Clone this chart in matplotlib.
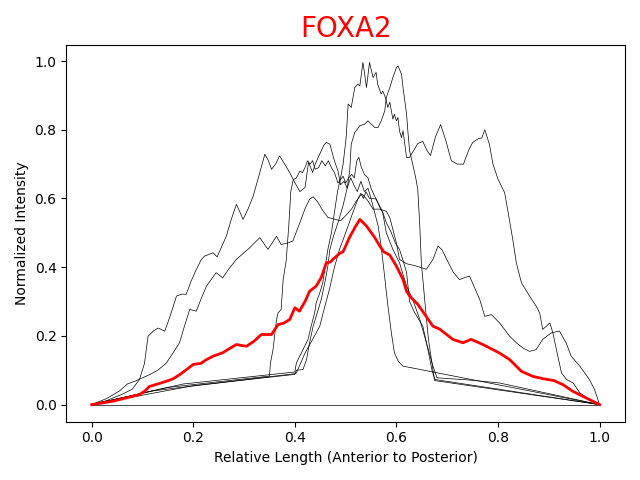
import matplotlib
matplotlib.use("Agg")
import matplotlib.pyplot as plt

# individual embryo profiles (relative position, normalized intensity)
a_x = [0, 0.03, 0.06, 0.08, 0.094, 0.104, 0.111, 0.122, 0.131, 0.144, 0.155, 0.167, 0.178, 0.186,
       0.196, 0.205, 0.215, 0.222, 0.239, 0.247, 0.256, 0.265, 0.275, 0.285, 0.292, 0.298, 0.308,
       0.318, 0.33, 0.341, 0.348, 0.354, 0.362, 0.37, 0.38, 0.39, 0.40, 0.41, 0.42, 0.427, 0.435,
       0.44, 0.449, 0.457, 0.462, 0.469, 0.478, 0.485, 0.49, 0.497, 0.503, 0.51, 0.516, 0.523, 0.53,
       0.537, 0.544, 0.55, 0.557, 0.564, 0.57, 0.577, 0.583, 0.59, 0.596, 0.604, 0.613, 1.0]
a_y = [0, 0.012, 0.03, 0.045, 0.073, 0.12, 0.199, 0.215, 0.223, 0.214, 0.26, 0.316, 0.322, 0.321,
       0.36, 0.39, 0.42, 0.432, 0.442, 0.43, 0.46, 0.49, 0.54, 0.583, 0.56, 0.539, 0.57,
       0.607, 0.67, 0.729, 0.71, 0.685, 0.70, 0.724, 0.70, 0.675, 0.646, 0.62, 0.632, 0.705, 0.676,
       0.70, 0.729, 0.755, 0.763, 0.758, 0.709, 0.68, 0.64, 0.65, 0.63, 0.66, 0.64, 0.62, 0.65,
       0.62, 0.63, 0.60, 0.56, 0.52, 0.46, 0.37, 0.29, 0.209, 0.151, 0.125, 0.112, 0.0]

b_x = [0, 0.03, 0.055, 0.07, 0.085, 0.1, 0.114, 0.13, 0.147, 0.16, 0.173, 0.183, 0.193, 0.206, 0.216,
       0.226, 0.245, 0.258, 0.27, 0.285, 0.31, 0.331, 0.347, 0.364, 0.373, 0.385, 0.396, 0.41, 0.42,
       0.429, 0.436, 0.445, 0.455, 0.465, 0.48, 0.49, 0.50, 0.512, 0.52, 0.528, 0.533, 0.544, 0.554,
       0.567, 0.58, 0.587, 0.593, 0.60, 0.606, 0.62, 0.635, 0.646, 0.659, 0.672, 0.682, 0.69, 0.70,
       0.712, 0.724, 0.735, 0.744, 0.754, 0.764, 0.774, 0.787, 0.803, 0.823, 0.836, 0.849, 0.862,
       0.875, 0.888, 0.905, 0.921, 0.934, 0.944, 0.961, 0.98, 0.99, 1.0]
b_y = [0, 0.018, 0.04, 0.06, 0.068, 0.078, 0.087, 0.10, 0.121, 0.15, 0.18, 0.23, 0.277, 0.272, 0.31,
       0.345, 0.384, 0.369, 0.395, 0.423, 0.455, 0.486, 0.452, 0.49, 0.466, 0.47, 0.476, 0.53, 0.57,
       0.598, 0.605, 0.59, 0.565, 0.545, 0.539, 0.535, 0.55, 0.57, 0.59, 0.607, 0.612, 0.593, 0.569,
       0.569, 0.563, 0.544, 0.51, 0.47, 0.423, 0.41, 0.405, 0.40, 0.394, 0.423, 0.462, 0.45, 0.42,
       0.385, 0.364, 0.37, 0.374, 0.34, 0.306, 0.257, 0.262, 0.238, 0.199, 0.18, 0.165, 0.155,
       0.16, 0.19, 0.209, 0.214, 0.18, 0.141, 0.112, 0.073, 0.044, 0.0]

c_x = [0, 0.18, 0.40, 0.403, 0.416, 0.426, 0.432, 0.439, 0.442, 0.449, 0.455, 0.459, 0.465, 0.472,
       0.478, 0.484, 0.49, 0.495, 0.501, 0.505, 0.511, 0.518, 0.524, 0.528, 0.534, 0.537, 0.541,
       0.547, 0.554, 0.56, 0.563, 0.57, 0.573, 0.577, 0.58, 0.583, 0.587, 0.593, 0.596, 0.60, 0.603,
       0.606, 0.61, 0.613, 0.62, 0.626, 0.632, 0.642, 0.652, 0.66, 0.667, 0.677, 0.687, 0.697, 0.708,
       0.72, 0.732, 0.742, 0.75, 0.762, 0.768, 0.774, 0.783, 0.79, 0.80, 0.813, 0.82, 0.829, 0.836,
       0.846, 0.862, 0.875, 0.882, 0.888, 0.895, 0.902, 0.908, 0.915, 0.925, 0.935, 0.948, 0.961,
       0.98, 1.0]
c_y = [0, 0.06, 0.095, 0.121, 0.16, 0.19, 0.228, 0.267, 0.296, 0.325, 0.355, 0.394, 0.452, 0.50,
       0.56, 0.62, 0.66, 0.70, 0.777, 0.875, 0.865, 0.923, 0.933, 0.928, 0.996, 0.967, 0.923,
       0.996, 0.952, 0.967, 0.933, 0.904, 0.913, 0.899, 0.885, 0.865, 0.88, 0.831, 0.845, 0.826, 0.836,
       0.797, 0.777, 0.797, 0.719, 0.72, 0.735, 0.76, 0.766, 0.74, 0.725, 0.78, 0.815, 0.77, 0.71,
       0.70, 0.70, 0.74, 0.763, 0.775, 0.776, 0.80, 0.758, 0.70, 0.656, 0.617, 0.559, 0.481, 0.413,
       0.355, 0.316, 0.287, 0.267, 0.219, 0.228, 0.238, 0.209, 0.16, 0.092, 0.073, 0.063, 0.034,
       0.015, 0.0]

d_x = [0, 0.2, 0.40, 0.403, 0.416, 0.423, 0.429, 0.436, 0.442, 0.452, 0.459, 0.465, 0.469, 0.476,
       0.485, 0.495, 0.503, 0.508, 0.511, 0.518, 0.528, 0.537, 0.544, 0.547, 0.557, 0.564, 0.57,
       0.577, 0.58, 0.587, 0.593, 0.60, 0.603, 0.61, 0.613, 0.62, 0.623, 0.626, 0.632, 0.638, 0.642,
       0.646, 0.649, 0.656, 0.663, 0.669, 0.675, 1.0]
d_y = [0, 0.055, 0.088, 0.10, 0.102, 0.131, 0.18, 0.228, 0.257, 0.306, 0.355, 0.403, 0.452, 0.49,
       0.53, 0.58, 0.63, 0.68, 0.758, 0.792, 0.812, 0.816, 0.826, 0.821, 0.807, 0.807, 0.826,
       0.855, 0.894, 0.923, 0.952, 0.981, 0.986, 0.962, 0.923, 0.845, 0.787, 0.738, 0.70, 0.66, 0.627,
       0.52, 0.413, 0.30, 0.19, 0.13, 0.07, 0.0]

g_x = [0, 0.15, 0.35, 0.352, 0.357, 0.364, 0.367, 0.373, 0.377, 0.383, 0.388, 0.392, 0.397, 0.403,
       0.41, 0.415, 0.42, 0.425, 0.43, 0.435, 0.44, 0.447, 0.453, 0.46, 0.466, 0.472, 0.478, 0.485,
       0.49, 0.495, 0.50, 0.506, 0.512, 0.517, 0.522, 0.526, 0.531, 0.537, 0.544, 0.55, 0.556, 0.563,
       0.573, 0.58, 0.59, 0.598, 0.606, 0.613, 0.62, 0.626, 0.635, 0.652, 0.662, 0.67, 0.676, 1.0]
g_y = [0, 0.05, 0.083, 0.121, 0.16, 0.248, 0.267, 0.277, 0.364, 0.42, 0.52, 0.62, 0.655, 0.66,
       0.68, 0.675, 0.69, 0.71, 0.70, 0.71, 0.685, 0.69, 0.71, 0.695, 0.71, 0.69, 0.675, 0.645,
       0.655, 0.665, 0.645, 0.66, 0.67, 0.66, 0.71, 0.72, 0.69, 0.67, 0.66, 0.63, 0.61, 0.59,
       0.56, 0.53, 0.50, 0.47, 0.452, 0.42, 0.384, 0.30, 0.27, 0.228, 0.16, 0.10, 0.073, 0.0]

h_x = [0, 0.12, 0.40, 0.403, 0.42, 0.435, 0.449, 0.458, 0.468, 0.478, 0.488, 0.50, 0.512, 0.524,
       0.53, 0.535, 0.54, 0.547, 0.555, 0.56, 0.567, 0.573, 0.58, 0.593, 0.606, 0.62, 0.632, 0.646,
       0.659, 0.672, 0.68, 0.70, 0.74, 0.803, 1.0]
h_y = [0, 0.04, 0.09, 0.092, 0.15, 0.19, 0.228, 0.28, 0.335, 0.40, 0.452, 0.50, 0.55, 0.598,
       0.615, 0.60, 0.62, 0.60, 0.60, 0.598, 0.575, 0.559, 0.50, 0.452, 0.413, 0.345, 0.306, 0.248,
       0.18, 0.112, 0.078, 0.076, 0.072, 0.063, 0.0]

zero_x = [0, 1.0]
zero_y = [0, 0]

profiles = [(a_x, a_y), (b_x, b_y), (c_x, c_y), (d_x, d_y), (g_x, g_y), (h_x, h_y), (zero_x, zero_y)]

# average profile
mean_x = [0, 0.042, 0.094, 0.105, 0.114, 0.13, 0.147, 0.16, 0.173, 0.185, 0.20, 0.215, 0.225, 0.239,
          0.258, 0.27, 0.285, 0.295, 0.305, 0.32, 0.334, 0.354, 0.367, 0.378, 0.39, 0.40, 0.409, 0.42,
          0.429, 0.442, 0.452, 0.462, 0.47, 0.475, 0.488, 0.495, 0.508, 0.52, 0.528, 0.541, 0.557,
          0.567, 0.575, 0.587, 0.60, 0.613, 0.62, 0.626, 0.642, 0.656, 0.672, 0.685, 0.698, 0.711,
          0.731, 0.747, 0.77, 0.79, 0.803, 0.823, 0.846, 0.869, 0.89, 0.898, 0.91, 0.928, 0.947,
          0.974, 1.0]
mean_y = [0, 0.01, 0.029, 0.04, 0.053, 0.06, 0.068, 0.075, 0.087, 0.10, 0.117, 0.12, 0.13, 0.141,
          0.151, 0.162, 0.175, 0.172, 0.17, 0.185, 0.204, 0.204, 0.233, 0.237, 0.248, 0.282, 0.272, 0.30,
          0.33, 0.345, 0.37, 0.413, 0.415, 0.423, 0.44, 0.445, 0.488, 0.52, 0.539, 0.52, 0.487,
          0.462, 0.445, 0.435, 0.403, 0.364, 0.33, 0.316, 0.292, 0.262, 0.228, 0.22, 0.205, 0.19,
          0.18, 0.19, 0.175, 0.16, 0.15, 0.131, 0.097, 0.082, 0.075, 0.073, 0.07, 0.058, 0.039,
          0.019, 0.0]

fig, ax = plt.subplots(figsize=(6.4, 4.8), dpi=100)
for px, py in profiles:
    ax.plot(px, py, color="black", linewidth=0.5)
ax.plot(mean_x, mean_y, color="red", linewidth=2)

ax.set_title("FOXA2", color="red", fontsize=20)
ax.set_xlabel("Relative Length (Anterior to Posterior)")
ax.set_ylabel("Normalized Intensity")
plt.tight_layout()
plt.savefig("out.png")
